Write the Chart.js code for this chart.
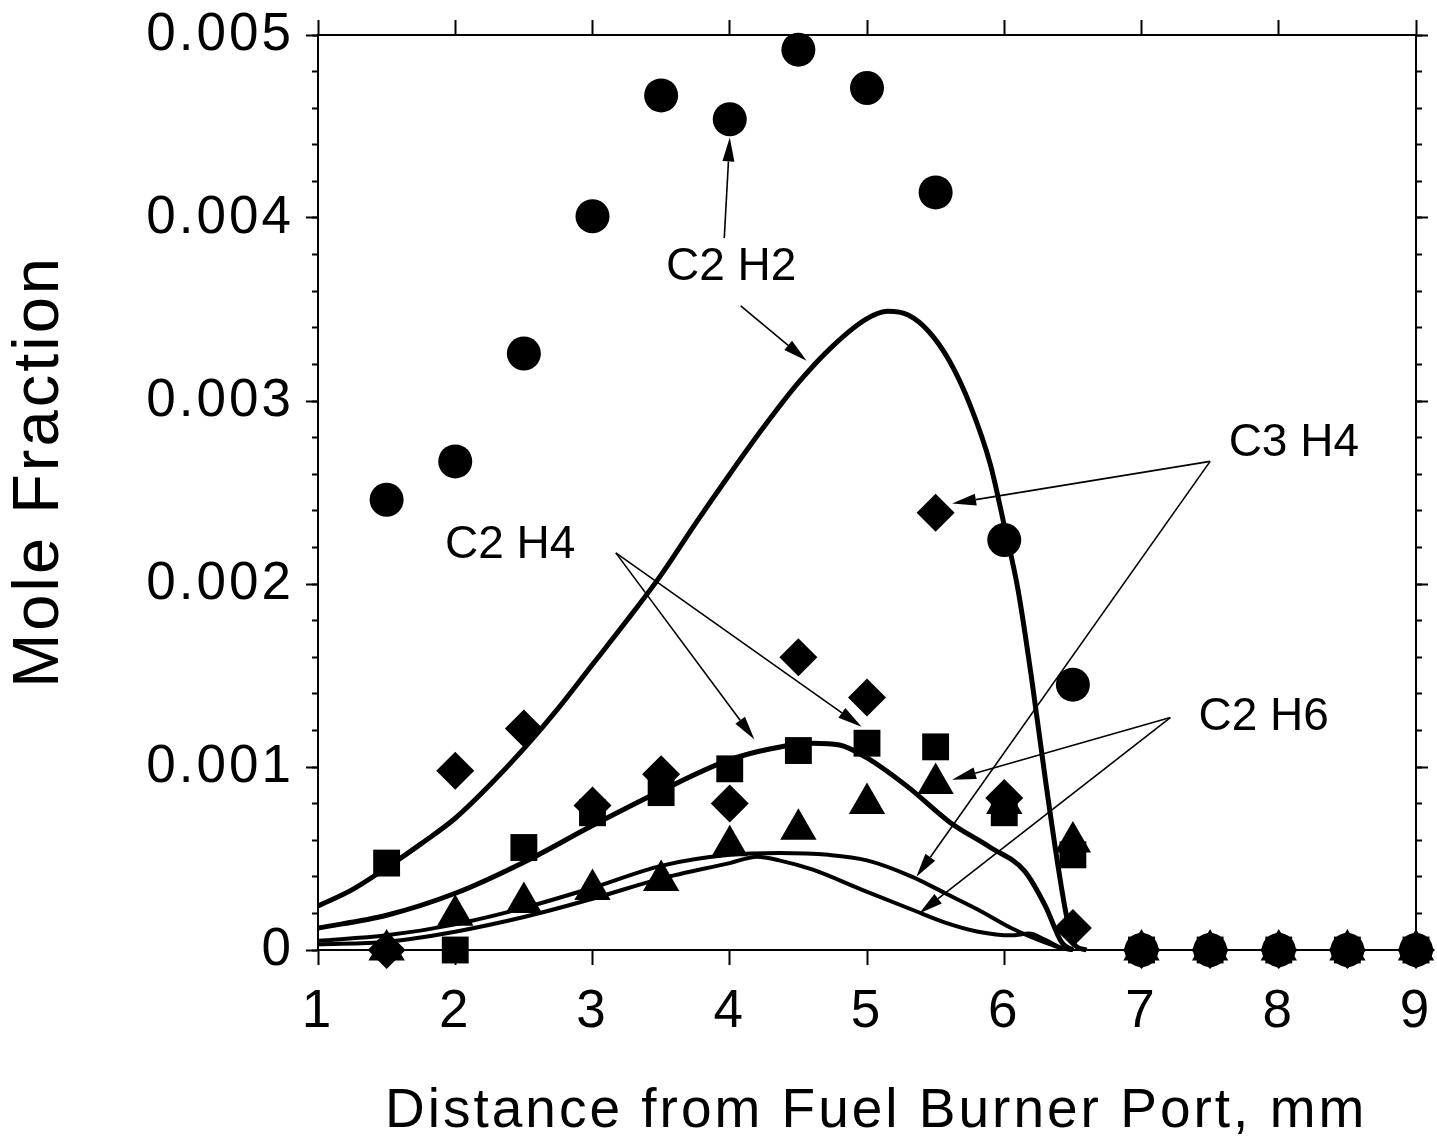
<!DOCTYPE html>
<html>
<head>
<meta charset="utf-8">
<script src="https://cdn.jsdelivr.net/npm/chart.js@4.4.1/dist/chart.umd.min.js"></script>
<style>
  html, body { margin: 0; padding: 0; background: #fff; }
  canvas { display: block; }
</style>
</head>
<body>
<canvas id="chart" width="1437" height="1141"></canvas>
<script>
// measured mole fractions (symbols)
const xMeasured = [1.5, 2, 2.5, 3, 3.5, 4, 4.5, 5, 5.5, 6, 6.5, 7, 7.5, 8, 8.5, 9];
const c2h2Measured = [0.00246, 0.00267, 0.00326, 0.00401, 0.00467, 0.00454, 0.00492, 0.00471, 0.00414, 0.00224, 0.00145, 0, 0, 0, 0, 0];
const c3h4Measured = [0, 0.00098, 0.00121, 0.00079, 0.00096, 0.00080, 0.00160, 0.00138, 0.00239, 0.00083, 0.00012, 0, 0, 0, 0, 0];
const c2h4Measured = [0.000475, 0, 0.00056, 0.00075, 0.00086, 0.00099, 0.00109, 0.00113, 0.00111, 0.00075, 0.00052, 0, 0, 0, 0, 0];
const c2h6Measured = [0, 0.00019, 0.00026, 0.00033, 0.00038, 0.00057, 0.00066, 0.00080, 0.00091, 0.00080, 0.00059, 0, 0, 0, 0, 0];

// model curves (solid lines)
const c2h2ModelX = [1.0, 1.25, 1.5, 1.75, 2.0, 2.25, 2.5, 2.75, 3.0, 3.25, 3.5, 3.75, 4.0, 4.25, 4.5, 4.75, 5.0, 5.15, 5.3, 5.45, 5.6, 5.75, 5.9, 6.0, 6.1, 6.2, 6.3, 6.4, 6.45, 6.5, 6.6];
const c2h2ModelY = [0.00024, 0.00033, 0.00045, 0.00058, 0.00072, 0.00090, 0.00110, 0.00132, 0.00156, 0.00180, 0.00205, 0.00233, 0.00260, 0.00286, 0.00310, 0.00330, 0.00345, 0.00349, 0.00347, 0.00338, 0.00322, 0.00298, 0.00265, 0.00232, 0.00197, 0.00148, 0.00093, 0.00042, 0.00020, 0.00004, 0];
const c2h4ModelX = [1.0, 1.5, 2.0, 2.5, 3.0, 3.5, 4.0, 4.3, 4.6, 4.8, 5.0, 5.3, 5.6, 5.9, 6.15, 6.3, 6.42, 6.5];
const c2h4ModelY = [0.00012, 0.00019, 0.00031, 0.00048, 0.00068, 0.00087, 0.00104, 0.00110, 0.00113, 0.00112, 0.00105, 0.00089, 0.00070, 0.00056, 0.00043, 0.00024, 0.00004, 0];
const c3h4ModelX = [1.0, 1.5, 2.0, 2.5, 3.0, 3.5, 4.0, 4.36, 4.72, 5.0, 5.33, 5.57, 5.81, 6.05, 6.3, 6.42, 6.5];
const c3h4ModelY = [0.00005, 0.00008, 0.00014, 0.00023, 0.00034, 0.00046, 0.00052, 0.00053, 0.00052, 0.00049, 0.00040, 0.00031, 0.00022, 0.00012, 0.00004, 0.00001, 0];
const c2h6ModelX = [1.0, 1.5, 2.0, 2.5, 3.0, 3.5, 4.0, 4.2, 4.36, 4.6, 4.96, 5.33, 5.57, 5.81, 6.05, 6.18, 6.3, 6.42, 6.5];
const c2h6ModelY = [0.00003, 0.000045, 0.00010, 0.00018, 0.00028, 0.00039, 0.000475, 0.00051, 0.00049, 0.00044, 0.00033, 0.00022, 0.00015, 0.00010, 0.00008, 0.00009, 0.000055, 0.00001, 0];

// axes
const xTicks = [1, 2, 3, 4, 5, 6, 7, 8, 9];
const yTicks = [0, 0.001, 0.002, 0.003, 0.004, 0.005];
const yTickLabels = ['0', '0.001', '0.002', '0.003', '0.004', '0.005'];

// species labels and their arrows, in data units
const labelText = ['C2 H2', 'C3 H4', 'C2 H4', 'C2 H6'];
const labelX = [4.01, 8.11, 2.40, 7.89];
const labelY = [0.00373, 0.00277, 0.00221, 0.00127];
const arrowFrom = [[3.96, 0.00389], [4.08, 0.00352], [7.50, 0.00267], [7.50, 0.00267], [3.17, 0.00217], [3.17, 0.00217], [7.21, 0.00127], [7.21, 0.00127]];
const arrowTo = [[4.00, 0.00444], [4.56, 0.00322], [5.62, 0.00244], [5.36, 0.00040], [4.18, 0.00115], [4.96, 0.00122], [5.62, 0.00093], [5.38, 0.00020]];

const FONT = '"Liberation Sans", Arial, Helvetica, sans-serif';

const pairs = (xs, ys) => xs.map((v, i) => ({ x: v, y: ys[i] }));

const markerSet = (label, ys, style, radius) => ({
  label: label,
  data: pairs(xMeasured, ys),
  showLine: false,
  pointStyle: style,
  pointRadius: radius,
  pointBackgroundColor: '#000',
  pointBorderColor: '#000',
  pointBorderWidth: 0,
  clip: false,
});

const modelSet = (label, xs, ys, width) => ({
  label: label,
  data: pairs(xs, ys),
  showLine: true,
  borderColor: '#000',
  borderWidth: width,
  pointRadius: 0,
  cubicInterpolationMode: 'monotone',
  fill: false,
  clip: false,
});

const spacingPlugin = {
  id: 'spacing',
  beforeDraw(chart) {
    chart.ctx.letterSpacing = '3px';
  },
};

const speciesLabels = {
  id: 'speciesLabels',
  afterDatasetsDraw(chart) {
    const { ctx } = chart;
    const xs = chart.scales.x;
    const ys = chart.scales.y;
    ctx.save();
    ctx.letterSpacing = '0px';
    ctx.fillStyle = '#000';
    ctx.strokeStyle = '#000';
    ctx.font = '46px ' + FONT;
    ctx.textAlign = 'center';
    ctx.textBaseline = 'middle';
    labelText.forEach((t, i) => {
      ctx.fillText(t, xs.getPixelForValue(labelX[i]), ys.getPixelForValue(labelY[i]));
    });
    ctx.lineWidth = 1.6;
    arrowFrom.forEach((f, i) => {
      const x1 = xs.getPixelForValue(f[0]);
      const y1 = ys.getPixelForValue(f[1]);
      const x2 = xs.getPixelForValue(arrowTo[i][0]);
      const y2 = ys.getPixelForValue(arrowTo[i][1]);
      const ang = Math.atan2(y2 - y1, x2 - x1);
      const len = 24, half = 6;
      const bx = x2 - len * Math.cos(ang);
      const by = y2 - len * Math.sin(ang);
      ctx.beginPath();
      ctx.moveTo(x1, y1);
      ctx.lineTo(bx, by);
      ctx.stroke();
      ctx.beginPath();
      ctx.moveTo(x2, y2);
      ctx.lineTo(bx + half * Math.sin(ang), by - half * Math.cos(ang));
      ctx.lineTo(bx - half * Math.sin(ang), by + half * Math.cos(ang));
      ctx.closePath();
      ctx.fill();
    });
    ctx.restore();
  },
};

const frameGrid = (len) => ({
  drawOnChartArea: false,
  drawTicks: true,
  tickLength: len,
  tickWidth: 2,
  tickColor: '#000',
  color: '#000',
});

// fixed box sizes so the plot area lands where the original one is
const fixSize = (w, h) => (s) => {
  if (w !== null) s.width = w;
  if (h !== null) s.height = h;
  s.paddingLeft = 0;
  s.paddingRight = 0;
  s.paddingTop = 0;
  s.paddingBottom = 0;
};

new Chart(document.getElementById('chart').getContext('2d'), {
  type: 'scatter',
  data: {
    datasets: [
      modelSet('C2H2 model', c2h2ModelX, c2h2ModelY, 5),
      modelSet('C2H4 model', c2h4ModelX, c2h4ModelY, 5),
      modelSet('C3H4 model', c3h4ModelX, c3h4ModelY, 4),
      modelSet('C2H6 model', c2h6ModelX, c2h6ModelY, 4),
      markerSet('C2H2', c2h2Measured, 'circle', 17),
      markerSet('C3H4', c3h4Measured, 'rectRot', 19),
      markerSet('C2H4', c2h4Measured, 'rect', 19),
      markerSet('C2H6', c2h6Measured, 'triangle', 21),
    ],
  },
  options: {
    responsive: false,
    animation: false,
    devicePixelRatio: 1,
    layout: { padding: 0 },
    plugins: {
      legend: { display: false },
      tooltip: { enabled: false },
    },
    scales: {
      x: {
        type: 'linear',
        position: 'bottom',
        min: 1,
        max: 9,
        weight: 1,
        afterBuildTicks: (s) => { s.ticks = xTicks.map((v) => ({ value: v })); },
        ticks: {
          font: { family: FONT, size: 53, lineHeight: 1 },
          color: '#000',
          padding: 21,
          maxRotation: 0,
          autoSkip: false,
          callback: (v) => String(v),
        },
        grid: frameGrid(15),
        border: { display: true, color: '#000', width: 2 },
        title: {
          display: true,
          text: ' Distance from Fuel Burner Port, mm',
          font: { family: FONT, size: 55, lineHeight: 1 },
          color: '#000',
          padding: { top: 0, bottom: 2 },
        },
        afterFit: fixSize(null, 191),
      },
      xTop: {
        type: 'linear',
        position: 'top',
        min: 1,
        max: 9,
        afterBuildTicks: (s) => { s.ticks = xTicks.map((v) => ({ value: v })); },
        ticks: { display: false },
        grid: frameGrid(15),
        border: { display: true, color: '#000', width: 2 },
        afterFit: fixSize(null, 35),
      },
      y: {
        type: 'linear',
        position: 'left',
        min: 0,
        max: 0.005,
        weight: 1,
        afterBuildTicks: (s) => { s.ticks = yTicks.map((v) => ({ value: v })); },
        ticks: {
          font: { family: FONT, size: 53, lineHeight: 1 },
          color: '#000',
          padding: 12,
          autoSkip: false,
          callback: (v, i) => yTickLabels[i],
        },
        grid: frameGrid(12),
        border: { display: true, color: '#000', width: 2 },
        title: {
          display: true,
          text: '  Mole Fraction',
          font: { family: FONT, size: 65, lineHeight: 1 },
          color: '#000',
          padding: { top: 8, bottom: 0 },
        },
        afterFit: fixSize(318, null),
      },
      yMinor: {
        type: 'linear',
        position: 'left',
        min: 0,
        max: 0.005,
        weight: 0,
        ticks: { display: false, stepSize: 0.0002, maxTicksLimit: 40 },
        grid: frameGrid(6),
        border: { display: false },
        afterFit: fixSize(0, null),
      },
      yRight: {
        type: 'linear',
        position: 'right',
        min: 0,
        max: 0.005,
        weight: 1,
        afterBuildTicks: (s) => { s.ticks = yTicks.map((v) => ({ value: v })); },
        ticks: { display: false },
        grid: frameGrid(12),
        border: { display: true, color: '#000', width: 2 },
        afterFit: fixSize(17, null),
      },
      yRightMinor: {
        type: 'linear',
        position: 'right',
        min: 0,
        max: 0.005,
        weight: 0,
        ticks: { display: false, stepSize: 0.0002, maxTicksLimit: 40 },
        grid: frameGrid(6),
        border: { display: false },
        afterFit: fixSize(0, null),
      },
    },
  },
  plugins: [spacingPlugin, speciesLabels],
});
</script>
</body>
</html>
